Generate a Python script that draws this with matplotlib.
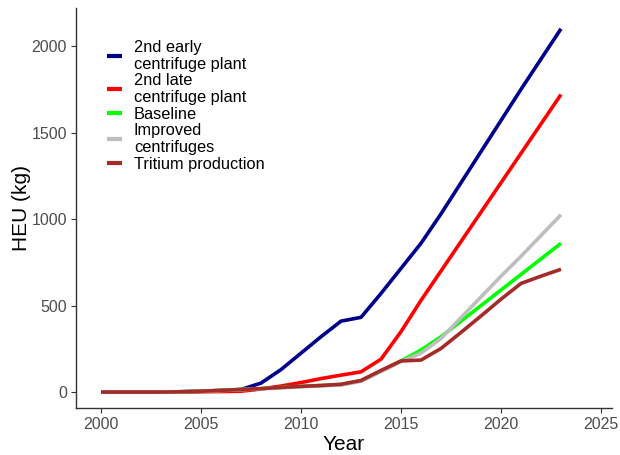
import matplotlib
matplotlib.use("Agg")
import matplotlib.pyplot as plt

plt.rcParams['font.family'] = ['Liberation Sans', 'DejaVu Sans']

years = list(range(2000, 2024))

early_plant = [0, 0, 0, 0, 2, 5, 9, 15, 52, 130, 225, 320, 410, 432,
               570, 715, 860, 1030, 1210, 1390, 1570, 1750, 1925, 2100]
late_plant = [0, 0, 0, 0, 0, 2, 3, 5, 18, 35, 55, 78, 98, 117,
              190, 349, 530, 700, 870, 1040, 1210, 1380, 1550, 1720]
baseline = [0, 0, 0, 0, 2, 5, 10, 15, 20, 27, 33, 38, 44, 66,
            122, 180, 243, 320, 410, 500, 590, 680, 770, 860]
improved = [0, 0, 0, 0, 2, 5, 9, 14, 19, 25, 31, 36, 41, 62,
            118, 176, 225, 310, 430, 550, 670, 785, 905, 1025]
tritium = [0, 0, 0, 0, 2, 5, 10, 15, 20, 27, 33, 38, 45, 67,
           125, 180, 185, 252, 345, 440, 537, 628, 670, 710]

series = [
    ("2nd early\ncentrifuge plant", early_plant, "#00008B"),
    ("2nd late\ncentrifuge plant", late_plant, "#FF0000"),
    ("Baseline", baseline, "#00FF00"),
    ("Improved\ncentrifuges", improved, "#BEBEBE"),
    ("Tritium production", tritium, "#A52A2A"),
]

x_ticks = [2000, 2005, 2010, 2015, 2020, 2025]
y_ticks = [0, 500, 1000, 1500, 2000]

fig = plt.figure(figsize=(6.2, 4.55), dpi=100)
ax = fig.add_axes([76 / 620, 47 / 455, 536 / 620, 400 / 455])

for label, values, color in series:
    ax.plot(years, values, color=color, lw=2.6, label=label,
            solid_capstyle="butt", solid_joinstyle="round")

ax.set_xlim(1998.75, 2025.55)
ax.set_ylim(-92, 2220)
ax.set_xticks(x_ticks)
ax.set_yticks(y_ticks)

for side in ("top", "right"):
    ax.spines[side].set_visible(False)
for side in ("left", "bottom"):
    ax.spines[side].set_color("#333333")
    ax.spines[side].set_linewidth(1.0)

ax.tick_params(axis="both", direction="out", length=3.5, width=0.8,
               color="#333333", labelsize=11.5, labelcolor="#4D4D4D", pad=3)

ax.set_xlabel("Year", fontsize=15, color="black", labelpad=2)
ax.set_ylabel("HEU (kg)", fontsize=15, color="black", labelpad=0)

leg = ax.legend(loc="upper left", bbox_to_anchor=(0.045, 0.937), frameon=False,
                fontsize=11.75, handlelength=0.95, handletextpad=0.72,
                labelspacing=0.1, borderaxespad=0)
for text in leg.get_texts():
    text.set_linespacing(1.15)
for line in leg.get_lines():
    line.set_linewidth(3)

fig.savefig("out.png", dpi=100)
